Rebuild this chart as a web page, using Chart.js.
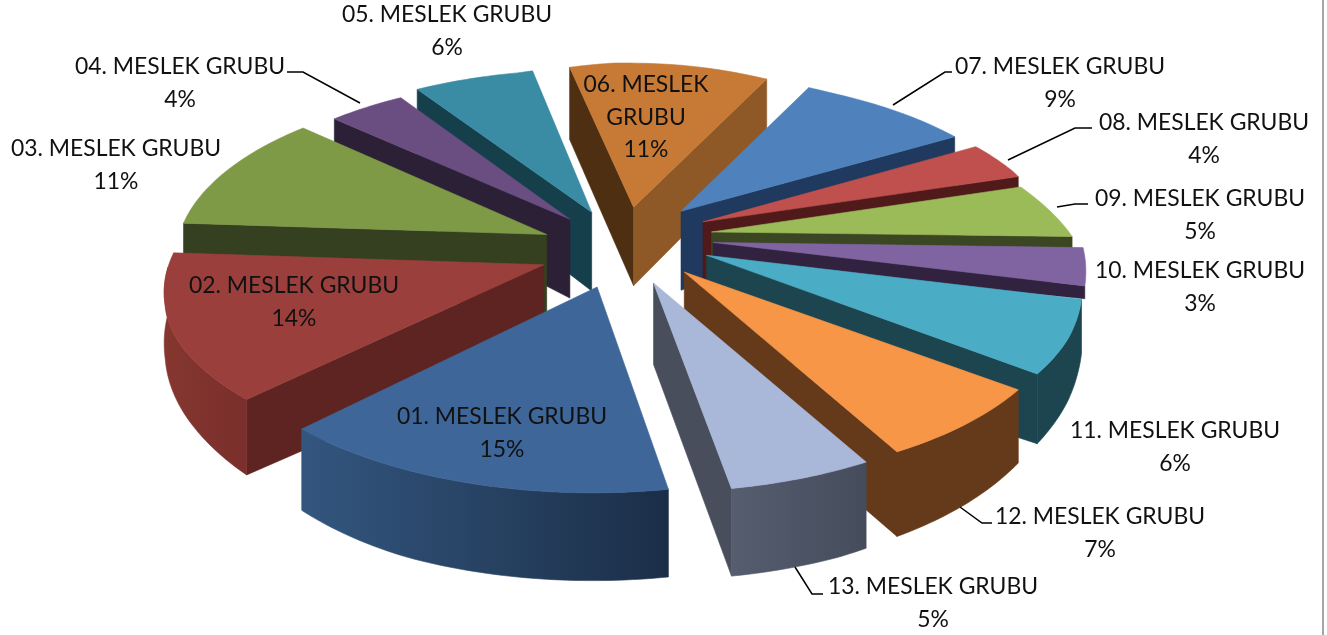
<!DOCTYPE html>
<html><head><meta charset="utf-8">
<style>html,body{margin:0;padding:0;background:#fff}canvas{display:block}</style>
<script src="https://cdn.jsdelivr.net/npm/chart.js@4"></script>
</head><body>
<canvas id="c" width="1327" height="635"></canvas>
<script>
const categories=["01. MESLEK GRUBU","02. MESLEK GRUBU","03. MESLEK GRUBU","04. MESLEK GRUBU","05. MESLEK GRUBU","06. MESLEK GRUBU","07. MESLEK GRUBU","08. MESLEK GRUBU","09. MESLEK GRUBU","10. MESLEK GRUBU","11. MESLEK GRUBU","12. MESLEK GRUBU","13. MESLEK GRUBU"];
const shares=[15,14,11,4,6,10.7,8.9,3.7,4.9,3.1,6.4,6.9,5.4];
const topColours=["#3E6699","#9A3F3C","#7E9A47","#6A4E82","#3A8CA5","#C67A35","#4F81BD","#C0504D","#9BBB59","#8064A2","#4BACC6","#F79646","#A9B8D8"];
const startFace=["#1B2E47","#5E2421","#34401F","#2B2035","#153F4B","#4F2F12","#1F3A5E","#4F1A19","#3A4722","#31233F","#1C4550","#653A1B","#454C5B"];
const endFace=["#2E5078","#5E2421","#34401F","#2B2035","#153F4B","#8E5926","#1F3A5E","#4F1A19","#3A4722","#31233F","#1C4550","#653A1B","#484E5C"];
const wallFrom=["#33567F","#85362F","#34401F","#2B2035","#153F4B","#8E5926","#1F3A5E","#4F1A19","#3A4722","#31233F","#1C4550","#653A1B","#555D6F"];
const wallTo=["#1B2E47","#7A2F2C","#34401F","#2B2035","#153F4B","#8E5926","#1F3A5E","#4F1A19","#3A4722","#31233F","#1C4550","#653A1B","#454C5B"];
const radiusScale=[1,1,1,0.97,1,1,1,1,0.98,1,1,1,1];
const depthScale=[1,1,1,1,1,1,1,1,1,0.25,1,1,1];
const labelX=[502,294,116,180,447,646,1060,1204,1200,1200,1175,1100,933];
const labelY=[417,286,149,67,15,85,67,123,199,271,431,517,587];
const leaders=[[[287,72],[303,72],[360,103]],[[893,105],[945,72],[952,72]],[[1008,160],[1075,128],[1092,128]],[[1057,207],[1075,204],[1088,204]],[[960,507],[982,523],[992,523]],[[795,567],[812,594],[823,594]]];
const explode=0.23, CX=622, CY=247, RX=373, RY=172, K=0.12, SHEAR=8, DEPTH=80;

const clamp=v=>Math.max(0,Math.min(1,v));
function project(X,Y,z){
  const w=1/(1-K*Y);
  const left=clamp(-X/0.3)*clamp((0.6-Y)/0.3);
  const rightUp=clamp(X/0.2)*clamp(1-Y/0.5)*clamp((Y+1)/0.6);
  const tent=(X<=0?0:(X<0.2?X/0.2:clamp((1.2-X)/1.0)))*clamp(1-Y);
  const backRight=clamp(X/0.5)*clamp(-Y/0.3);
  const thin=1-0.45*clamp((Math.abs(X)-0.5)/0.7)*clamp(1-Y/1.4);
  return [CX+RX*X*w+SHEAR*Math.min(Y,0)+4*left+6*tent-20*backRight,
          CY+RY*Y*w+z*DEPTH*(1+0.08*Y)*thin+5*left-10*rightUp];
}
function poly(ctx,pts,fill){
  ctx.beginPath();pts.forEach((p,i)=>i?ctx.lineTo(p[0],p[1]):ctx.moveTo(p[0],p[1]));ctx.closePath();
  ctx.fillStyle=fill;ctx.strokeStyle=fill;ctx.lineWidth=0.6;ctx.fill();ctx.stroke();
}
function drawSlice(ctx,el,i){
  const a0=el.startAngle,a1=el.endAngle,mid=(a0+a1)/2,r=radiusScale[i],d=depthScale[i];
  const ox=explode*Math.cos(mid),oy=explode*Math.sin(mid);
  const rim=(a,z)=>project(ox+r*Math.cos(a),oy+r*Math.sin(a),z*d);
  const apex=z=>project(ox,oy,z*d);
  const n=Math.max(8,Math.ceil((a1-a0)*60));
  const angles=[];for(let j=0;j<=n;j++)angles.push(a0+(a1-a0)*j/n);
  if(Math.cos(a0)<0) poly(ctx,[apex(0),rim(a0,0),rim(a0,1),apex(1)],startFace[i]);
  if(Math.cos(a1)>0) poly(ctx,[apex(0),rim(a1,0),rim(a1,1),apex(1)],endFace[i]);
  const front=Math.sin(mid)>0.2?angles.filter(a=>Math.sin(a)>-0.01):[];
  if(front.length>1){
    const t=front.map(a=>rim(a,0)),b=front.map(a=>rim(a,1)).reverse();
    const xs=t.map(p=>p[0]);
    const g=ctx.createLinearGradient(Math.min(...xs),0,Math.max(...xs),0);
    g.addColorStop(0,wallFrom[i]);g.addColorStop(1,wallTo[i]);
    poly(ctx,t.concat(b),g);
  }
  poly(ctx,[apex(0)].concat(angles.map(a=>rim(a,0))),topColours[i]);
}
const pie3d={
  id:'pie3d',
  beforeDatasetDraw(chart){
    const ctx=chart.ctx,els=chart.getDatasetMeta(0).data;
    const order=els.map((e,i)=>i).sort((p,q)=>Math.sin((els[p].startAngle+els[p].endAngle)/2)-Math.sin((els[q].startAngle+els[q].endAngle)/2));
    ctx.save();order.forEach(i=>drawSlice(ctx,els[i],i));ctx.restore();
    return false;
  },
  afterDraw(chart){
    const ctx=chart.ctx;ctx.save();
    ctx.strokeStyle='#000';ctx.lineWidth=1.5;
    leaders.forEach(l=>{ctx.beginPath();l.forEach((p,i)=>i?ctx.lineTo(p[0],p[1]):ctx.moveTo(p[0],p[1]));ctx.stroke();});
    ctx.strokeStyle='#A6A6A6';ctx.lineWidth=2;ctx.beginPath();ctx.moveTo(1323,0);ctx.lineTo(1323,635);ctx.stroke();
    ctx.fillStyle='#111';ctx.font='22.9px Lato';ctx.textAlign='center';ctx.textBaseline='middle';
    const total=shares.reduce((s,v)=>s+v,0);
    categories.forEach((name,i)=>{
      const pct=Math.round(shares[i]/total*100)+'%';
      const x=labelX[i],y=labelY[i];
      if(i===5){const parts=name.split(' ');
        ctx.fillText(parts[0]+' '+parts[1],x,y);ctx.fillText(parts[2],x,y+33);ctx.fillText(pct,x,y+65);
      }else{ctx.fillText(name,x,y);ctx.fillText(pct,x,y+33);}
    });
    ctx.restore();
  }
};
document.fonts.load('22.9px Lato').finally(()=>{
new Chart(document.getElementById('c'),{
  type:'pie',
  data:{labels:categories,datasets:[{data:shares,backgroundColor:topColours,borderWidth:0}]},
  options:{responsive:false,animation:false,rotation:170,
    plugins:{legend:{display:false},tooltip:{enabled:false}}},
  plugins:[pie3d]
});
});
</script>
</body></html>
